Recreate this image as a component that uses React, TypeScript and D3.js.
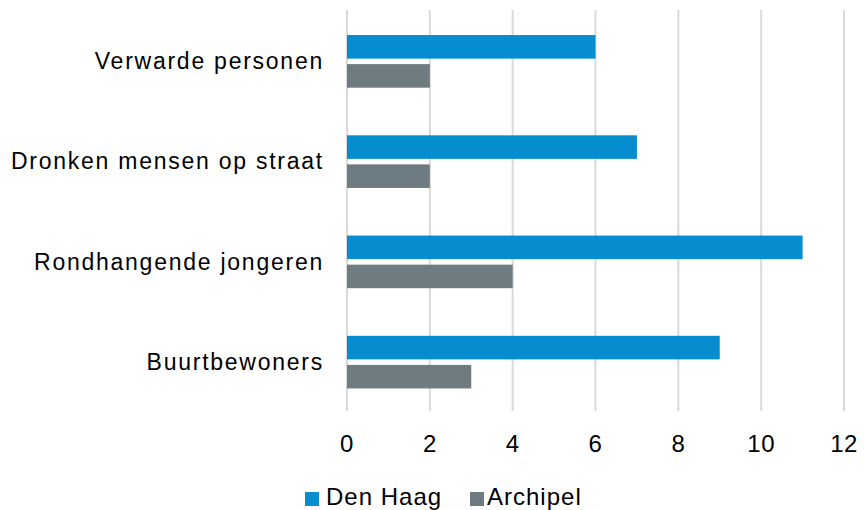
import React from "react";
import * as d3 from "d3";

const categories = ["Verwarde personen", "Dronken mensen op straat", "Rondhangende jongeren", "Buurtbewoners"];
const denHaag = [6, 7, 11, 9];
const archipel = [2, 2, 4, 3];
const seriesNames = ["Den Haag", "Archipel"];
const colors = ["#058DCF", "#6E7B81"];
const ticks = [0, 2, 4, 6, 8, 10, 12];

export default function App() {
  const W = 865, H = 510;
  const left = 347, right = 844, top = 10, bottom = 411;
  const x = d3.scaleLinear().domain([0, 12]).range([left, right]);
  const y = d3.scaleBand().domain(categories).range([top, bottom]);
  const bw = y.bandwidth();
  const font = "'Liberation Sans', Arial, sans-serif";
  const fs = 24;
  const series = [denHaag, archipel];
  return (
    <svg width={W} height={H} style={{ position: "absolute", left: 0, top: 0 }}>
      <rect width={W} height={H} fill="#fff" />
      {ticks.map((t) => (
        <line key={t} x1={x(t)} x2={x(t)} y1={top} y2={bottom} stroke="#D9D9D9" strokeWidth={2} />
      ))}
      {categories.map((c, i) => {
        const b = y(c)!;
        return (
          <g key={c}>
            {series.map((s, k) => {
              const y0 = b + bw * (k === 0 ? 0.25 : 0.54);
              const h = bw * 0.235;
              return (
                <rect key={k} x={x(0)} y={y0} width={x(s[i]) - x(0)} height={h} fill={colors[k]} />
              );
            })}
            <text x={324} y={b + bw / 2 + 1} dy="0.35em" textAnchor="end" fontFamily={font} fontSize={23} letterSpacing={1.75} fill="#000">
              {c}
            </text>
          </g>
        );
      })}
      {ticks.map((t) => (
        <text key={t} x={x(t)} y={452} textAnchor="middle" fontFamily={font} fontSize={fs} letterSpacing={0.5} fill="#000">
          {t}
        </text>
      ))}
      <g>
        <rect x={305} y={492} width={14} height={14} fill={colors[0]} />
        <text x={326} y={505} fontFamily={font} fontSize={fs} letterSpacing={1} fill="#000">{seriesNames[0]}</text>
        <rect x={470} y={492} width={14} height={14} fill={colors[1]} />
        <text x={487} y={505} fontFamily={font} fontSize={fs} letterSpacing={1} fill="#000">{seriesNames[1]}</text>
      </g>
    </svg>
  );
}
